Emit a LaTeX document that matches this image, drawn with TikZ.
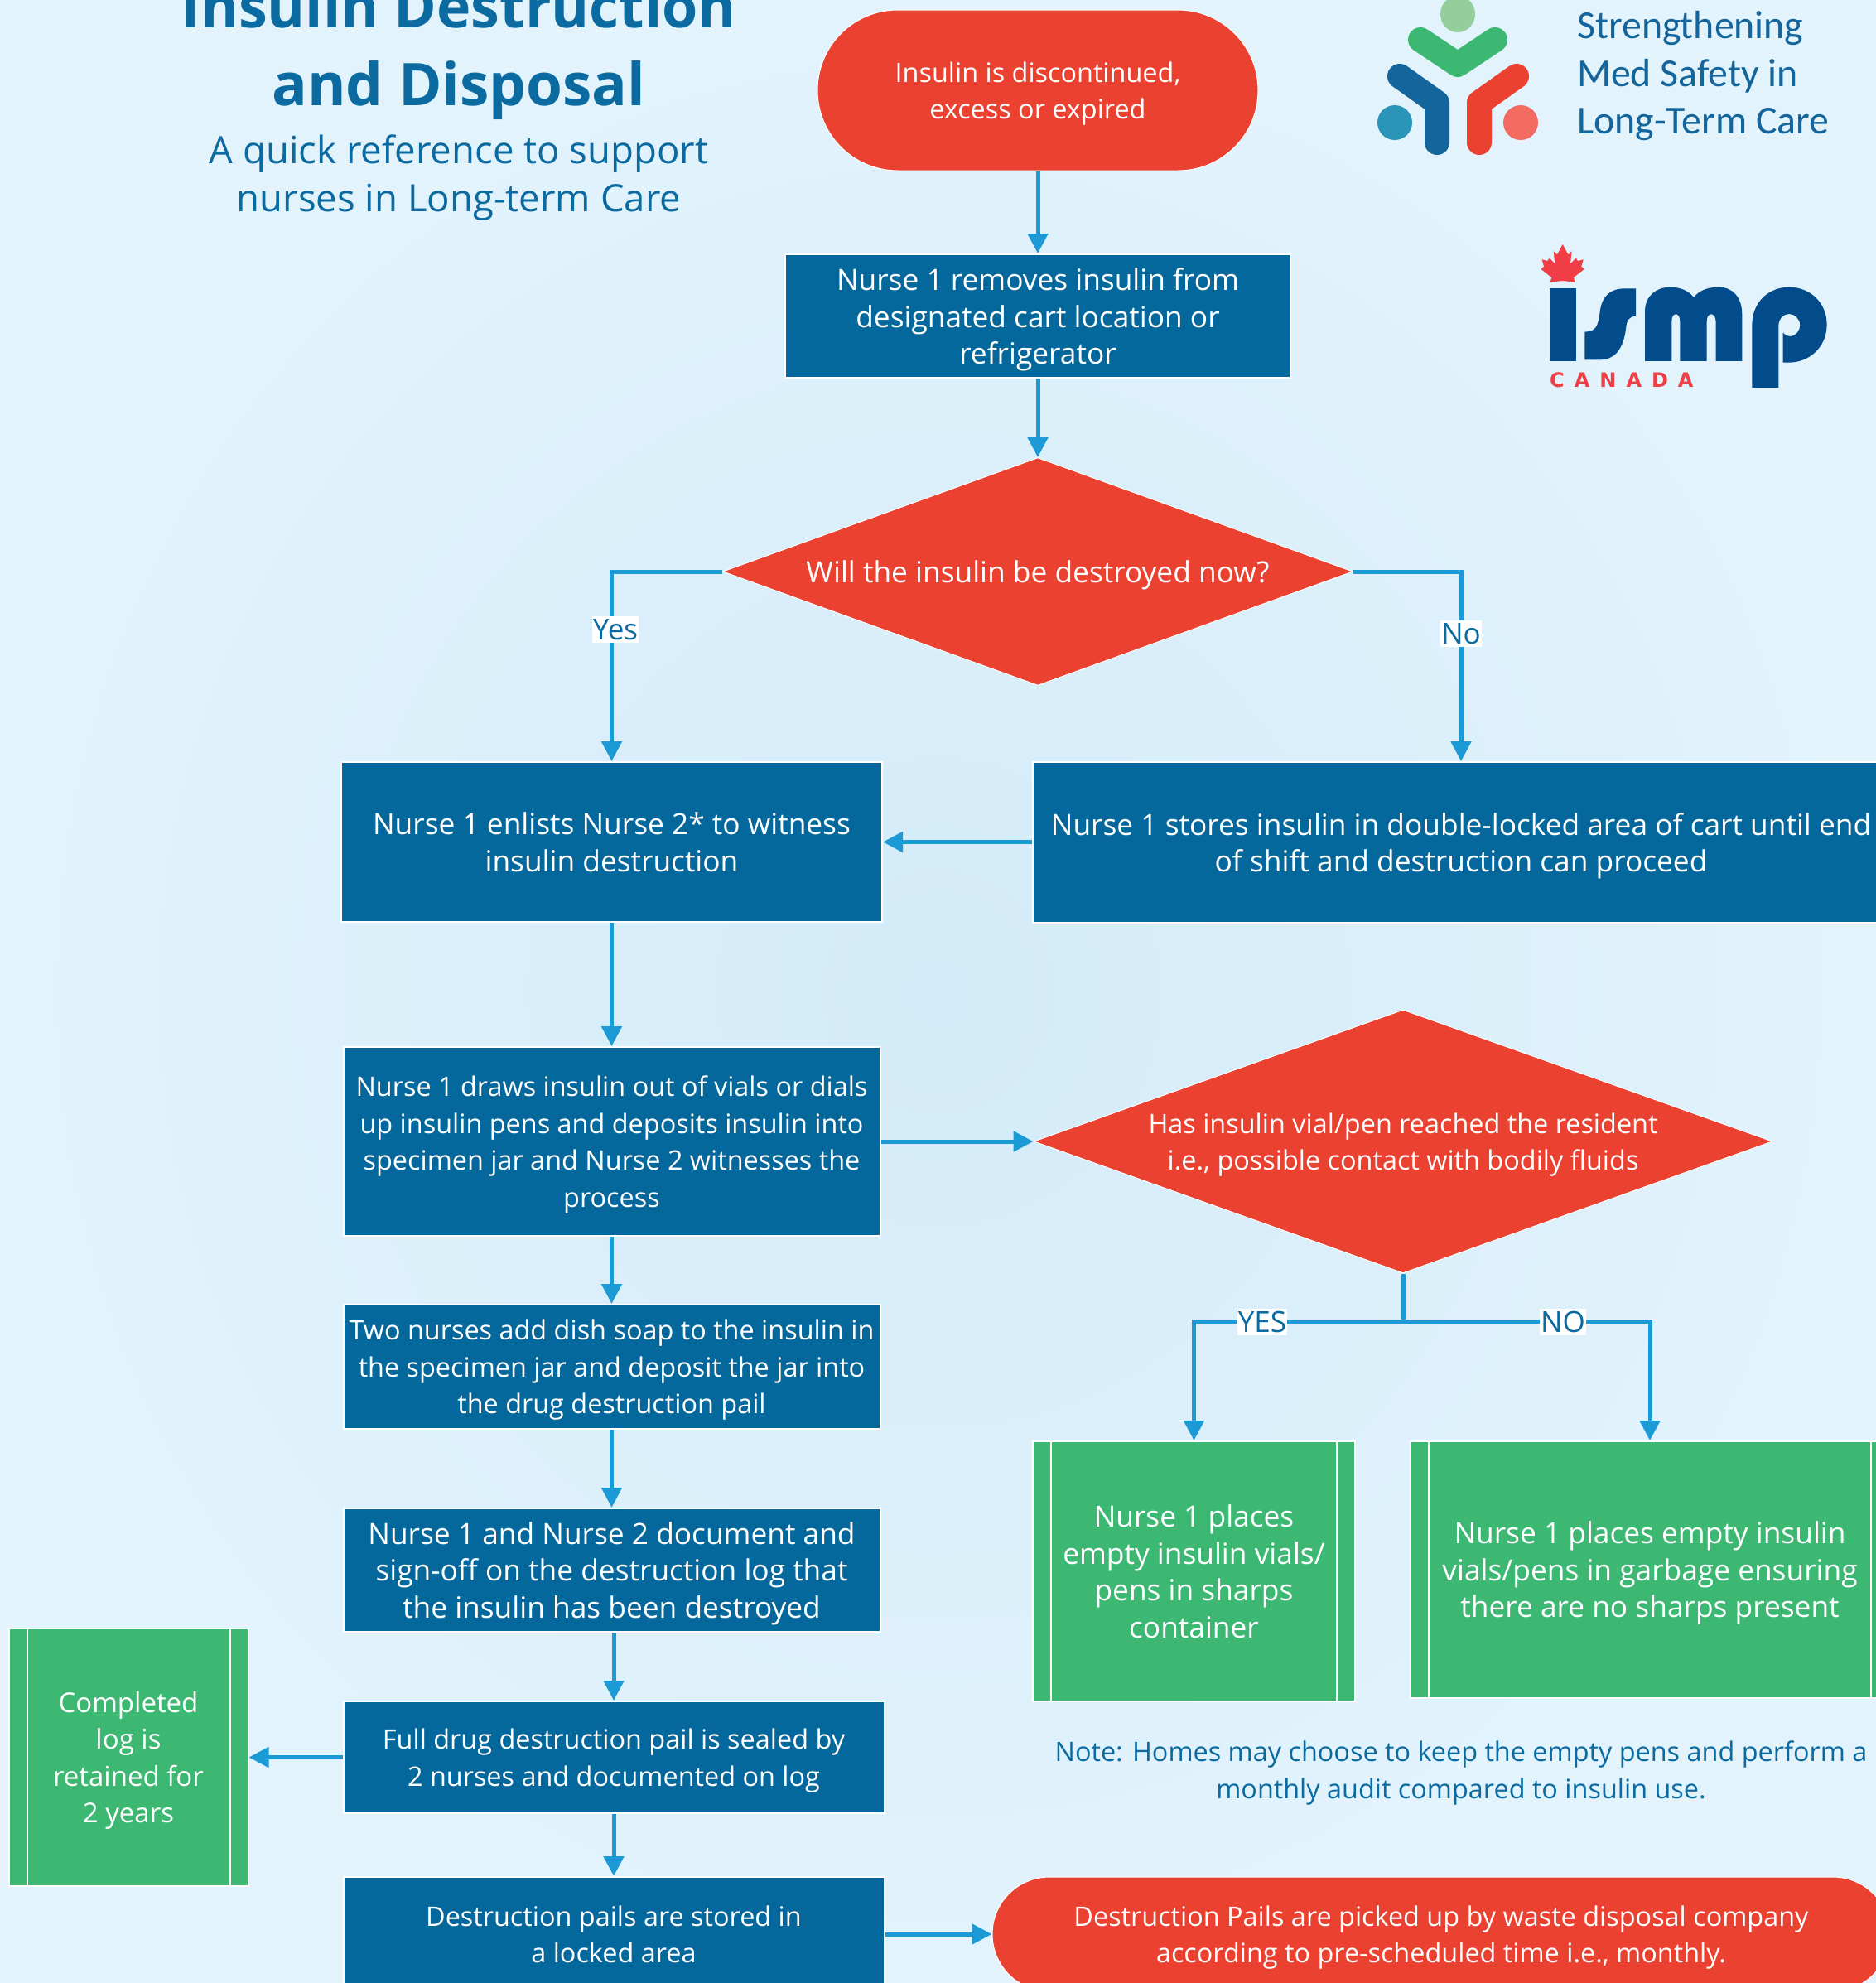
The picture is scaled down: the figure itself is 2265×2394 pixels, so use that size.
\documentclass[tikz,border=0pt]{standalone}
\usepackage{fontspec}
\setmainfont{Open Sans}
\newfontfamily\logofont{Carlito}
\newfontfamily\canfont{DejaVu Sans}
\usetikzlibrary{shapes.geometric,shapes.misc,arrows.meta}
\definecolor{bgin}{HTML}{D3EBF8}
\definecolor{bgout}{HTML}{E2F3FC}
\definecolor{boxblue}{HTML}{05689D}
\definecolor{flowred}{HTML}{EA4130}
\definecolor{flowgreen}{HTML}{3DB873}
\definecolor{linkblue}{HTML}{1B9AD6}
\definecolor{inkblue}{HTML}{0B6AA0}
\definecolor{ismpblue}{HTML}{034C8C}
\definecolor{ismpred}{HTML}{EF3E45}
\definecolor{logoblue}{HTML}{13659B}
\definecolor{headgreen}{HTML}{93CE9C}
\definecolor{tealdot}{HTML}{2B95B7}
\definecolor{coraldot}{HTML}{F46B62}
\tikzset{
  x=1pt,y=-1pt,
  bigtext/.style={font=\fontsize{35.3}{44.5}\selectfont},
  smalltext/.style={font=\fontsize{32.4}{44.5}\selectfont},
  basetext/.style={align=center,inner sep=0pt,text=white,bigtext,text depth=-1pt},
  bluebox/.style={basetext,rectangle,fill=boxblue,draw=white,line width=2pt},
  greenbox/.style={basetext,rectangle,fill=flowgreen,draw=white,line width=2pt},
  stripe/.style={draw=white,line width=2pt},
  terminator/.style={basetext,rounded rectangle,fill=flowred,draw=white,line width=1pt,smalltext},
  decision/.style={diamond,fill=flowred,draw=white,line width=1pt,inner sep=0pt,shape aspect=2.77},
  diatext/.style={basetext},
  conn/.style={draw=linkblue,line width=5pt,-{Triangle[length=24pt,width=24pt]}},
  plainconn/.style={draw=linkblue,line width=5pt},
  lab/.style={fill=white,inner xsep=1pt,inner ysep=3pt,text=inkblue,font=\fontsize{35}{40}\selectfont},
  headtext/.style={align=center,inner sep=0pt,text=inkblue},
  logotext/.style={anchor=west,inner sep=0pt,text=logoblue,font=\logofont\fontsize{47.8}{50}\selectfont},
  logoarm/.style={line width=30pt,line cap=round,line join=round},
}
\begin{document}
\begin{tikzpicture}
\useasboundingbox (0,0) rectangle (2265,2394);
\clip (0,0) rectangle (2265,2394);
\shade[inner color=bgin,outer color=bgout] (0,0) rectangle (2265,2394);

% title
\node[headtext,font=\fontsize{71}{82}\selectfont\bfseries] (title) at (554,109) {and Disposal};
\node[headtext,anchor=south,font=\fontsize{70}{82}\selectfont\bfseries] (title0) at (554,34) {Insulin Destruction};
\node[headtext,font=\fontsize{45.5}{58}\selectfont] (sub) at (554,215) {A quick reference to support\\nurses in Long-term Care};

% flow nodes
\node[terminator,minimum width=532pt,minimum height=194pt] (start) at (1253,109) {Insulin is discontinued,\\excess or expired};
\node[bluebox,minimum width=610pt,minimum height=149pt] (remove) at (1253,381.5) {Nurse 1 removes insulin from\\designated cart location or\\refrigerator};
\node[decision,minimum width=761pt,minimum height=275pt] (ask) at (1253,690) {};
\node[diatext] (askt) at (ask.center) {Will the insulin be destroyed now?};
\node[bluebox,minimum width=653pt,minimum height=193pt] (enlist) at (738.5,1016.5) {Nurse 1 enlists Nurse 2* to witness\\insulin destruction};
\node[bluebox,minimum width=1034pt,minimum height=194pt] (stores) at (1764,1017) {Nurse 1 stores insulin in double-locked area of cart until end\\of shift and destruction can proceed};
\node[bluebox,smalltext,minimum width=648pt,minimum height=228pt] (draws) at (738.5,1378) {Nurse 1 draws insulin out of vials or dials\\up insulin pens and deposits insulin into\\specimen jar and Nurse 2 witnesses the\\process};
\node[bluebox,smalltext,minimum width=648pt,minimum height=150pt] (soap) at (738.5,1650) {Two nurses add dish soap to the insulin in\\the specimen jar and deposit the jar into\\the drug destruction pail};
\node[bluebox,minimum width=648pt,minimum height=149pt] (doc) at (738.5,1895.5) {Nurse 1 and Nurse 2 document and\\sign-off on the destruction log that\\the insulin has been destroyed};
\node[bluebox,smalltext,minimum width=653pt,minimum height=135pt] (full) at (741,2121.5) {Full drug destruction pail is sealed by\\2 nurses and documented on log};
\node[bluebox,smalltext,minimum width=653pt,minimum height=138pt] (pails) at (741,2335) {Destruction pails are stored in\\a locked area};
\node[decision,minimum width=892pt,minimum height=318pt] (reach) at (1694,1378) {};
\node[diatext,smalltext] (reacht) at (reach.center) {Has insulin vial/pen reached the resident\\i.e., possible contact with bodily fluids};
\node[greenbox,minimum width=389pt,minimum height=314pt] (sharps) at (1441.5,1897) {Nurse 1 places\\empty insulin vials/\\pens in sharps\\container};
\node[greenbox,minimum width=578pt,minimum height=310pt] (garbage) at (1992,1895) {Nurse 1 places empty insulin\\vials/pens in garbage ensuring\\there are no sharps present};
\node[greenbox,font=\fontsize{33}{44.5}\selectfont,minimum width=289pt,minimum height=311pt] (kept) at (155,2121.5) {Completed\\log is\\retained for\\2 years};
\node[terminator,minimum width=1084pt,minimum height=138pt] (pickup) at (1740,2335) {Destruction Pails are picked up by waste disposal company\\according to pre-scheduled time i.e., monthly.};

% stripes of the green boxes
\draw[stripe] ([xshift=23pt]sharps.north west) -- ([xshift=23pt]sharps.south west);
\draw[stripe] ([xshift=-23pt]sharps.north east) -- ([xshift=-23pt]sharps.south east);
\draw[stripe] ([xshift=23pt]garbage.north west) -- ([xshift=23pt]garbage.south west);
\draw[stripe] ([xshift=-23pt]garbage.north east) -- ([xshift=-23pt]garbage.south east);
\draw[stripe] ([xshift=23pt]kept.north west) -- ([xshift=23pt]kept.south west);
\draw[stripe] ([xshift=-23pt]kept.north east) -- ([xshift=-23pt]kept.south east);

% note
\node[headtext,font=\fontsize{32.4}{44.5}\selectfont] (note) at (1764,2140.5) {Note: Homes may choose to keep the empty pens and perform a\\monthly audit compared to insulin use.};

% connectors
\draw[conn] (start.south) -- (remove.north);
\draw[conn] (remove.south) -- (ask.north);
\draw[conn] (ask.west) -| (enlist.north);
\draw[conn] (ask.east) -| (stores.north);
\draw[conn] (stores.west |- enlist.east) -- (enlist.east);
\draw[conn] (enlist.south) -- (draws.north);
\draw[conn] (draws.east) -- (reach.west);
\draw[conn] (draws.south) -- (soap.north);
\draw[conn] (soap.south) -- (doc.north);
\draw[conn] (full.north |- doc.south) -- (full.north);
\draw[conn] (full.south) -- (pails.north);
\draw[conn] (full.west) -- (kept.east);
\draw[conn] (pails.east) -- (pickup.west);
\coordinate (fork) at (1694,1595);
\draw[plainconn] (reach.south) -- (fork);
\draw[conn] (fork) -| (sharps.north);
\draw[conn] (fork) -| (garbage.north);

% connector labels
\node[lab] (yeslab) at (743,760) {Yes};
\node[lab] (nolab) at (1764,765) {No};
\node[lab] (yeslab2) at (1524,1596) {YES};
\node[lab] (nolab2) at (1887,1596) {NO};

% med safety logo
\fill[headgreen] (1760,17) ellipse [x radius=21,y radius=22];
\draw[flowgreen,logoarm] (1715,48) -- (1760,78) -- (1805,48);
\draw[logoblue,logoarm] (1690,92) -- (1735,124) -- (1735,172);
\draw[flowred,logoarm] (1831,92) -- (1786,124) -- (1786,172);
\fill[tealdot] (1684,148) ellipse [x radius=21,y radius=21];
\fill[coraldot] (1836,148) ellipse [x radius=21,y radius=21];
\node[logotext] (l1) at (1904,34) {Strengthening};
\node[logotext] (l2) at (1904,92) {Med Safety in};
\node[logotext] (l3) at (1904,150) {Long-Term Care};

% ISMP logo
\begin{scope}[shift={(1820,280)},x=0.3333pt,y=-0.3333pt]
\fill[ismpblue] (152,205) rectangle (248,468);
\fill[ismpblue] (465,205) -- (465,305) .. controls (440,307) and (432,320) .. (430,345) .. controls (420,430) and (385,463) .. (335,463) -- (280,463) -- (280,362) .. controls (320,360) and (328,345) .. (335,290) .. controls (342,230) and (375,205) .. (425,205) -- cycle;
\fill[ismpblue] (498,468) -- (498,290) .. controls (498,230) and (540,200) .. (590,200) .. controls (625,200) and (655,212) .. (675,237) .. controls (695,212) and (725,200) .. (765,200) .. controls (815,200) and (850,235) .. (850,300) -- (850,468) -- (755,468) -- (755,325) .. controls (755,305) and (745,298) .. (738,298) .. controls (730,298) and (722,305) .. (722,325) -- (722,468) -- (625,468) -- (625,325) .. controls (625,305) and (618,298) .. (610,298) .. controls (602,298) and (595,305) .. (595,325) -- (595,468) -- cycle;
\fill[ismpblue] (886,565) -- (886,340) .. controls (886,250) and (950,200) .. (1020,200) .. controls (1100,200) and (1157,260) .. (1157,335) .. controls (1157,420) and (1090,473) .. (1020,473) -- (998,473) -- (998,365) .. controls (1005,372) and (1012,378) .. (1022,378) .. controls (1045,378) and (1060,358) .. (1060,337) .. controls (1060,315) and (1040,297) .. (1020,297) .. controls (1000,297) and (982,315) .. (982,340) -- (982,565) -- cycle;
\fill[ismpred] (200,45) -- (220,82) -- (233,70) -- (228,115) -- (248,95) -- (255,105) -- (275,100) -- (268,125) -- (278,135) -- (240,165) -- (245,182) -- (200,177) -- (155,182) -- (160,165) -- (122,135) -- (132,125) -- (125,100) -- (145,105) -- (152,95) -- (172,115) -- (167,70) -- (180,82) -- cycle;
\end{scope}
\node[anchor=west,inner sep=0pt,text=ismpred,font=\canfont\bfseries\fontsize{24}{28}\selectfont] (canada) at (1871,459) {C\hspace{12pt}A\hspace{12pt}N\hspace{12pt}A\hspace{12pt}D\hspace{12pt}A};
\end{tikzpicture}
\end{document}
